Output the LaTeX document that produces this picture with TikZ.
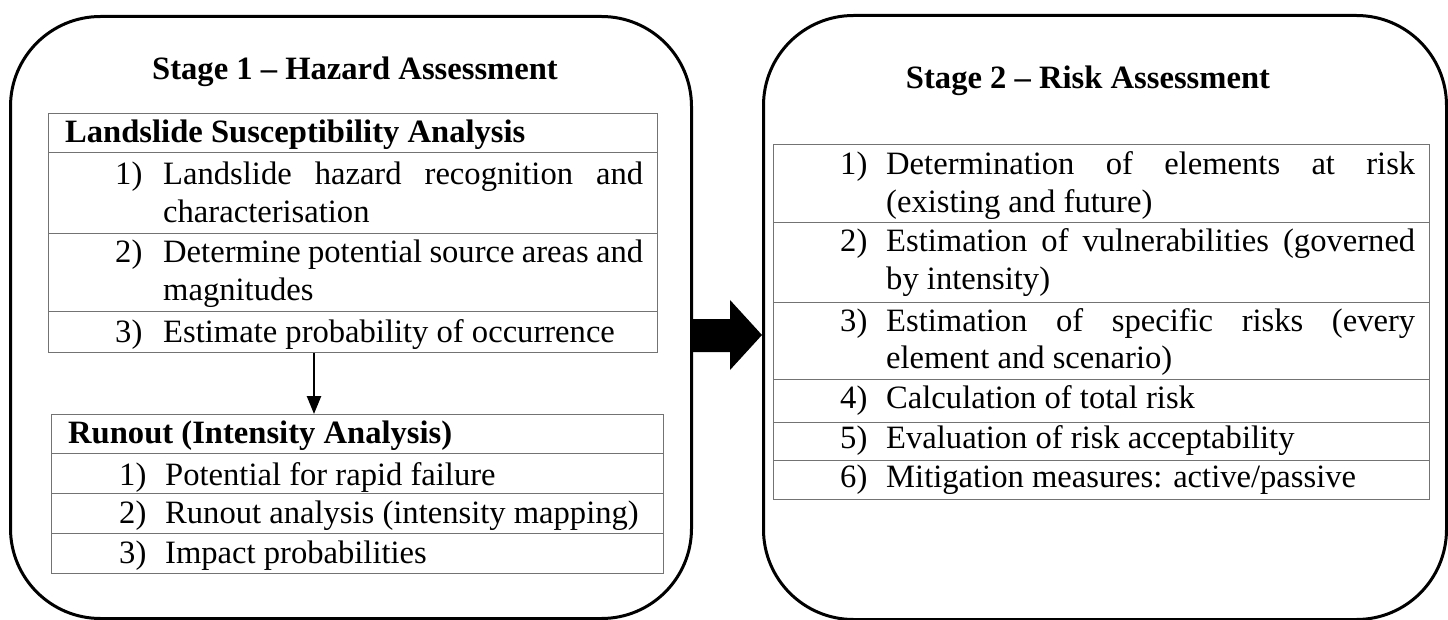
\documentclass[tikz,border=0pt]{standalone}
\usepackage{fontspec}
\setmainfont{Liberation Serif}
\usetikzlibrary{arrows.meta}
\newcommand{\fsz}{\fontsize{32.6}{37.5}\selectfont}
\newcommand{\natsp}{\spaceskip=0pt\relax\xspaceskip=0pt\relax}
\begin{document}
\begin{tikzpicture}[x=1pt,y=-1pt,
  stagebox/.style={draw=black, line width=3pt, rounded corners=90pt, anchor=north west, inner sep=0pt},
  rowbox/.style={draw=black!55, line width=1.3pt, anchor=north west, inner sep=0pt},
  txt/.style={font=\fsz, inner sep=0pt, anchor=base west, align=left},
  hdr/.style={font=\fsz\bfseries, inner sep=0pt, anchor=base west},
  ttl/.style={font=\fsz\bfseries, inner sep=0pt, anchor=base},
  lbl/.style={font=\fsz, inner sep=0pt, anchor=base west},
]
\useasboundingbox (0,0) rectangle (1448,620);

% stage boxes
\node[stagebox, minimum width=681pt, minimum height=602pt] (S1) at (9,15) {};
\node[stagebox, minimum width=683pt, minimum height=604pt] (S2) at (762,14) {};

% titles
\node[ttl] (T1) at (355,80) {Stage 1 -- Hazard Assessment};
\node[ttl] (T2) at (1088,89) {Stage 2 -- Risk Assessment};

% left table 1
\node[rowbox, minimum width=609pt, minimum height=39pt] (L1h) at (48,113) {};
\node[rowbox, minimum width=609pt, minimum height=81pt] (L1a) at (48,152) {};
\node[rowbox, minimum width=609pt, minimum height=78pt] (L1b) at (48,233) {};
\node[rowbox, minimum width=609pt, minimum height=41pt] (L1c) at (48,311) {};
\node[hdr] (L1ht) at (65,143) {Landslide Susceptibility Analysis};
\node[lbl] (L1an) at (115,185) {1)};
\node[txt, text width=480pt] (L1at) at (163,185) {\natsp\makebox[480pt][s]{Landslide hazard recognition and}\\characterisation};
\node[lbl] (L1bn) at (115,263) {2)};
\node[txt, text width=480pt] (L1bt) at (163,263) {\natsp\makebox[480pt][s]{Determine potential source areas and}\\magnitudes};
\node[lbl] (L1cn) at (115,342) {3)};
\node[txt, text width=490pt] (L1ct) at (163,342) {\natsp Estimate probability of occurrence};

% left table 2
\node[rowbox, minimum width=612pt, minimum height=39pt] (L2h) at (51,414) {};
\node[rowbox, minimum width=612pt, minimum height=40pt] (L2a) at (51,453) {};
\node[rowbox, minimum width=612pt, minimum height=40pt] (L2b) at (51,493) {};
\node[rowbox, minimum width=612pt, minimum height=40pt] (L2c) at (51,533) {};
\node[hdr] (L2ht) at (68,443) {Runout (Intensity Analysis)};
\node[lbl] (L2an) at (119,485) {1)};
\node[txt, text width=490pt] (L2at) at (165,485) {\natsp Potential for rapid failure};
\node[lbl] (L2bn) at (119,523) {2)};
\node[txt, text width=490pt] (L2bt) at (165,523) {\natsp Runout analysis (intensity mapping)};
\node[lbl] (L2cn) at (119,563) {3)};
\node[txt, text width=490pt] (L2ct) at (165,563) {\natsp Impact probabilities};

% right table
\node[rowbox, minimum width=656pt, minimum height=78pt] (Ra) at (773,144) {};
\node[rowbox, minimum width=656pt, minimum height=80pt] (Rb) at (773,222) {};
\node[rowbox, minimum width=656pt, minimum height=77pt] (Rc) at (773,302) {};
\node[rowbox, minimum width=656pt, minimum height=43pt] (Rd) at (773,379) {};
\node[rowbox, minimum width=656pt, minimum height=38pt] (Re) at (773,422) {};
\node[rowbox, minimum width=656pt, minimum height=39pt] (Rf) at (773,460) {};
\node[lbl] (Ran) at (840,175) {1)};
\node[txt, text width=529pt] (Rat) at (886,175) {\natsp\makebox[529pt][s]{Determination of elements at risk}\\(existing and future)};
\node[lbl] (Rbn) at (840,252) {2)};
\node[txt, text width=529pt] (Rbt) at (886,252) {\natsp\makebox[529pt][s]{Estimation of vulnerabilities (governed}\\by intensity)};
\node[lbl] (Rcn) at (840,331) {3)};
\node[txt, text width=529pt] (Rct) at (886,331) {\natsp\makebox[529pt][s]{Estimation of specific risks (every}\\element and scenario)};
\node[lbl] (Rdn) at (840,408) {4)};
\node[txt, text width=529pt] (Rdt) at (886,408) {\natsp Calculation of total risk};
\node[lbl] (Ren) at (840,448) {5)};
\node[txt, text width=529pt] (Ret) at (886,448) {\natsp Evaluation of risk acceptability};
\node[lbl] (Rfn) at (840,487) {6)};
\node[txt, text width=529pt] (Rft) at (886,487) {\natsp Mitigation measures: active/passive};

% down arrow
\coordinate (ax) at (314,0);
\draw[line width=2.5pt, -{Triangle[length=18pt,width=14pt]}] (L1c.south -| ax) -- (L2h.north -| ax);

% block arrow between stages
\fill[black] (S1.east |- 0,319) -- (730,319) -- (730,300) -- (S2.west |- 0,335) -- (730,370) -- (730,352) -- (S1.east |- 0,352) -- cycle;
\end{tikzpicture}
\end{document}
